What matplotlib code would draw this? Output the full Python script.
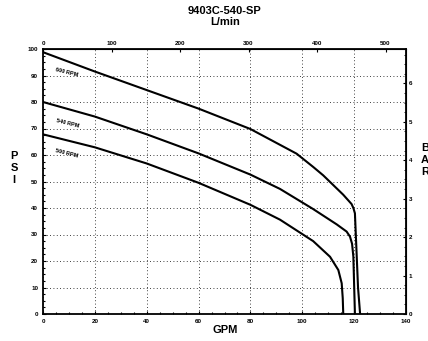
import numpy as np
import matplotlib.pyplot as plt
from matplotlib.ticker import MultipleLocator

plt.rcParams['font.family'] = ['Liberation Sans', 'DejaVu Sans']

gpm_600 = [0, 20, 40, 60, 80, 97.8, 104.2, 108.1, 115.8, 119.0, 119.7, 120.3, 121.5, 122.3]
psi_600 = [98.8, 91.5, 84.5, 77.5, 69.8, 60.5, 55.5, 52.3, 45.0, 41.5, 40.0, 38.0, 10, 0]
gpm_540 = [0, 20, 40, 60, 80, 91.4, 104.2, 113.3, 117.1, 118.4, 119.2, 119.7, 120.3]
psi_540 = [80, 74.5, 67.8, 60.6, 52.6, 47.2, 39.6, 33.8, 31.1, 29.2, 26.5, 21.6, 0]
gpm_500 = [0, 20, 40, 60, 80, 91.4, 104.2, 110.7, 113.9, 115.2, 115.6, 115.8]
psi_500 = [67.8, 62.9, 56.8, 49.5, 41.2, 35.6, 27.5, 21.6, 16.6, 11.6, 6, 0]

labels = ["600 RPM", "540 RPM", "500 RPM"]
label_pos = [(67, 72), (68, 123), (67, 153)]  # pixel positions
lmin_ticks = [0, 100, 200, 300, 400, 500]
bar_ticks = [0, 1, 2, 3, 4, 5, 6]

GAL_L = 3.785
PSI_BAR = 14.5038

fig = plt.figure(figsize=(4.28, 3.41), dpi=100)
ax = fig.add_axes([43/428, 27/341, 363/428, 265/341])

for g, p in [(gpm_600, psi_600), (gpm_540, psi_540), (gpm_500, psi_500)]:
    ax.plot(g, p, color='black', lw=1.5, solid_joinstyle='round')

ax.set_xlim(0, 140)
ax.set_ylim(0, 100)
ax.xaxis.set_major_locator(MultipleLocator(20))
ax.xaxis.set_minor_locator(MultipleLocator(5))
ax.yaxis.set_major_locator(MultipleLocator(10))
ax.yaxis.set_minor_locator(MultipleLocator(2.5))
ax.grid(True, which='major', color='black', linestyle=(0, (1, 3)), lw=0.6)
ax.tick_params(which='both', direction='in', labelsize=4.5, width=0.8)
ax.tick_params(which='major', length=2.5)
ax.tick_params(which='minor', length=1.2)
for lab in ax.get_xticklabels() + ax.get_yticklabels():
    lab.set_fontweight('bold')
for s in ax.spines.values():
    s.set_linewidth(1.3)

top = ax.secondary_xaxis('top', functions=(lambda x: x * GAL_L, lambda x: x / GAL_L))
top.set_xticks(lmin_ticks)
top.tick_params(direction='in', labelsize=4.5, length=2.5, pad=2)
for lab in top.get_xticklabels():
    lab.set_fontweight('bold')

right = ax.secondary_yaxis('right', functions=(lambda y: y / PSI_BAR, lambda y: y * PSI_BAR))
right.set_yticks(bar_ticks)
right.yaxis.set_minor_locator(MultipleLocator(0.25))
right.tick_params(which='both', direction='in', labelsize=4.5, pad=2)
right.tick_params(which='major', length=2.5)
right.tick_params(which='minor', length=1.2)
for lab in right.get_yticklabels():
    lab.set_fontweight('bold')

for txt, (px, py) in zip(labels, label_pos):
    fig.text(px/428, 1 - py/341, txt, fontsize=4, fontweight='bold',
             rotation=-14, ha='center', va='center')

fig.text(225/428, 1 - 11/341, "9403C-540-SP", fontsize=8, fontweight='bold',
         ha='center', va='center')
fig.text(225/428, 1 - 22/341, "L/min", fontsize=8, fontweight='bold',
         ha='center', va='center')
fig.text(225/428, 1 - 330/341, "GPM", fontsize=8, fontweight='bold',
         ha='center', va='center')
fig.text(14/428, 1 - 168/341, "P\nS\nI", fontsize=8, fontweight='bold',
         ha='center', va='center', linespacing=1.3)
fig.text(425/428, 1 - 160/341, "B\nA\nR", fontsize=8, fontweight='bold',
         ha='center', va='center', linespacing=1.3)

fig.savefig('out.png', dpi=100)
